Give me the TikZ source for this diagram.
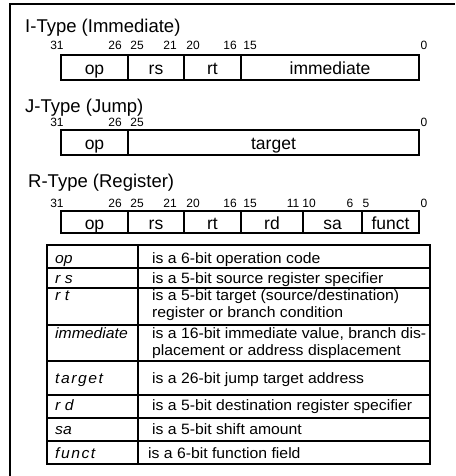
\documentclass[tikz,border=0pt]{standalone}
\usepackage{fontspec}
\setmainfont{Liberation Sans}
\newfontfamily\widefont{Liberation Sans}[FakeStretch=1.05]

% one field of an instruction word: name, left, right, top, bottom, label
\newcommand\fld[6]{%
  \pgfmathsetmacro\fldw{#3-#2}\pgfmathsetmacro\fldh{#5-#4}%
  \pgfmathsetmacro\fldx{(#2+#3)/2}\pgfmathsetmacro\fldy{(#4+#5)/2}%
  \node[fieldbox, minimum width=\fldw pt, minimum height=\fldh pt] (#1) at (\fldx,\fldy) {#6};}
% small extra spacing between letters
\newcommand\ks{\kern1.5pt}

\begin{document}
\begin{tikzpicture}[x=1pt,y=-1pt,
  frame/.style={line width=2.2pt},
  fieldbox/.style={draw, line width=1.5pt, inner sep=0pt, text height=14pt, text depth=0pt,
                   font=\fontsize{17.5}{20}\selectfont},
  bitnum/.style={anchor=base, inner sep=0pt, font=\fontsize{12}{14}\selectfont},
  title/.style={anchor=base west, inner sep=0pt, font=\fontsize{18.5}{21}\selectfont},
  rule/.style={line width=1.4pt},
  term/.style={anchor=base west, inner sep=0pt, font=\widefont\fontsize{15}{17}\selectfont\itshape},
  desc/.style={anchor=base west, inner sep=0pt, align=left, font=\widefont\fontsize{15}{17}\selectfont}]

\useasboundingbox (0,0) rectangle (455,476);

% outer frame (left and top edges)
\draw[frame] (10,476) -- (10,4) -- (455,4);

% ---------------- I-Type ----------------
\node[title] (ititle) at (25,33) {I-Type (Immediate)};
\foreach \n/\x in {31/57,26/115,25/137,21/170,20/193,16/230,15/250,0/424}
  \node[bitnum] (ib\n) at (\x,50) {\n};
\fld{iop}{61}{128}{55}{80}{op}
\fld{irs}{128}{184}{55}{80}{rs}
\fld{irt}{184}{241}{55}{80}{rt}
\fld{iimm}{241}{419}{55}{80}{immediate}

% ---------------- J-Type ----------------
\node[title] (jtitle) at (25,113) {J-Type (Jump)};
\foreach \n/\x in {31/57,26/115,25/137,0/424}
  \node[bitnum] (jb\n) at (\x,127) {\n};
\fld{jop}{61}{128}{130}{155}{op}
\fld{jtarget}{128}{419}{130}{155}{target}

% ---------------- R-Type ----------------
\node[title] (rtitle) at (28,187) {R-Type (Register)};
\foreach \n/\x in {31/57,26/115,25/137,21/170,20/193,16/230,15/250,11/293,10/309,6/350,5/366,0/424}
  \node[bitnum] (rb\n) at (\x,207) {\n};
\fld{rop}{61}{128}{211}{233}{op}
\fld{rrs}{128}{184}{211}{233}{rs}
\fld{rrt}{184}{241}{211}{233}{rt}
\fld{rrd}{241}{303}{211}{233}{rd}
\fld{rsa}{303}{362}{211}{233}{sa}
\fld{rfunct}{362}{419}{211}{233}{funct}

% ---------------- field legend ----------------
\draw[rule] (47,245) rectangle (430,464);
\draw[rule] (138,245) -- (138,464);
\foreach \y in {268,288,325,361,395,418,441}
  \draw[rule] (47,\y) -- (430,\y);

\node[term] (top)  at (55,263) {op};
\node[term] (trs)  at (55,283) {r s};
\node[term] (trt)  at (55,300) {r t};
\node[term] (timm) at (55,338) {immediate};
\node[term] (ttgt) at (55,383) {t\ks a\ks r\ks g\ks e\ks t};
\node[term] (trd)  at (55,410) {r d};
\node[term] (tsa)  at (55,434) {sa};
\node[term] (tfn)  at (55,458) {f\ks u\ks n\ks c\ks t};

% two-line entries are placed by the baseline of their last line
\node[desc] (dop)  at (152,263) {is a 6-bit operation code};
\node[desc] (drs)  at (152,283) {is a 5-bit source register specifier};
\node[desc] (drt)  at (152,317) {is a 5-bit target (source/destination)\\register or branch condition};
\node[desc] (dimm) at (152,355) {is a 16-bit immediate value, branch dis-\\placement or address displacement};
\node[desc] (dtgt) at (152,383) {is a 26-bit jump target address};
\node[desc] (drd)  at (152,410) {is a 5-bit destination register specifier};
\node[desc] (dsa)  at (152,434) {is a 5-bit shift amount};
\node[desc] (dfn)  at (148,458) {is a 6-bit function field};

\end{tikzpicture}
\end{document}
